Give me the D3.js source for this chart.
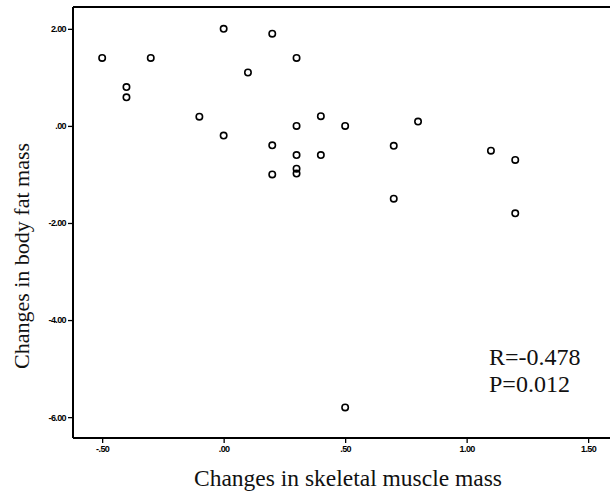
<!DOCTYPE html>
<html>
<head>
<meta charset="utf-8">
<script src="https://cdn.jsdelivr.net/npm/d3@7"></script>
<style>
  body { margin: 0; background: #fff; }
  .tick text { font-family: "Liberation Sans", Arial, sans-serif; font-weight: bold; font-size: 9px; letter-spacing: -0.6px; }
  .lbl { font-family: "Liberation Serif", "Times New Roman", serif; fill: #111; }
</style>
</head>
<body>
<div id="chart"></div>
<script>
// changes in skeletal muscle mass (x) and body fat mass (y)
const muscleChange = [-0.5, -0.4, -0.4, -0.3, -0.1, 0.0, 0.0, 0.1, 0.2, 0.2, 0.2, 0.3, 0.3, 0.3, 0.3, 0.3,
  0.4, 0.4, 0.5, 0.5, 0.7, 0.7, 0.8, 1.1, 1.2, 1.2];
const fatChange = [1.4, 0.8, 0.59, 1.4, 0.19, 2.0, -0.2, 1.1, 1.9, -0.4, -1.0, 1.4, 0.0, -0.6, -0.88, -0.98,
  0.2, -0.6, 0.0, -5.8, -0.41, -1.5, 0.09, -0.51, -0.7, -1.8];
const xTicks = [-0.5, 0, 0.5, 1.0, 1.5];
const yTicks = [2, 0, -2, -4, -6];
const stats = ["R=-0.478", "P=0.012"];

const width = 610, height = 495;
const margin = { top: 7, right: 0, bottom: 57, left: 73 };

const svg = d3.select("#chart").append("svg")
  .attr("width", width)
  .attr("height", height);

const x = d3.scaleLinear().domain([-0.62, 1.59]).range([margin.left, width - margin.right]);
const y = d3.scaleLinear().domain([-6.43, 2.45]).range([height - margin.bottom, margin.top]);

// ticks like "-.50", ".00", "1.00" (SPSS style)
const fmt = (v) => {
  const s = d3.format(".2f")(v).replace("\u2212", "-");
  return s.replace(/^(-?)0\./, "$1.");
};

// frame: top line and left/bottom axes
svg.append("line")
  .attr("x1", margin.left).attr("x2", width)
  .attr("y1", margin.top).attr("y2", margin.top)
  .attr("stroke", "#000").attr("stroke-width", 2);

const xAxis = svg.append("g")
  .attr("transform", `translate(0,${height - margin.bottom})`)
  .call(d3.axisBottom(x).tickValues(xTicks).tickFormat(fmt).tickSize(5).tickPadding(3).tickSizeOuter(0));
const yAxis = svg.append("g")
  .attr("transform", `translate(${margin.left},0)`)
  .call(d3.axisLeft(y).tickValues(yTicks).tickFormat(fmt).tickSize(5).tickPadding(2).tickSizeOuter(0));

[xAxis, yAxis].forEach((g) => {
  g.select(".domain").attr("stroke", "#000").attr("stroke-width", 2);
  g.selectAll(".tick line").attr("stroke", "#000").attr("stroke-width", 1.3);
  g.selectAll(".tick text").attr("fill", "#000");
});
xAxis.select(".domain").attr("d", `M${margin.left},0H${width}`);
yAxis.select(".domain").attr("d", `M0,${margin.top}V${height - margin.bottom}`);

// points
svg.append("g")
  .selectAll("circle")
  .data(muscleChange.map((v, i) => [v, fatChange[i]]))
  .join("circle")
  .attr("cx", (d) => x(d[0]))
  .attr("cy", (d) => y(d[1]))
  .attr("r", 3.2)
  .attr("fill", "none")
  .attr("stroke", "#000")
  .attr("stroke-width", 1.6);

// R / P annotation
svg.append("g")
  .selectAll("text")
  .data(stats)
  .join("text")
  .attr("class", "lbl")
  .attr("x", 489)
  .attr("y", (d, i) => 365 + i * 27)
  .attr("font-size", 24)
  .text((d) => d);

// axis titles
svg.append("text")
  .attr("class", "lbl")
  .attr("x", 348)
  .attr("y", 486)
  .attr("text-anchor", "middle")
  .attr("font-size", 23.5)
  .text("Changes in skeletal muscle mass");

svg.append("text")
  .attr("class", "lbl")
  .attr("transform", `translate(29,256) rotate(-90)`)
  .attr("text-anchor", "middle")
  .attr("font-size", 22)
  .text("Changes in body fat mass");
</script>
</body>
</html>
